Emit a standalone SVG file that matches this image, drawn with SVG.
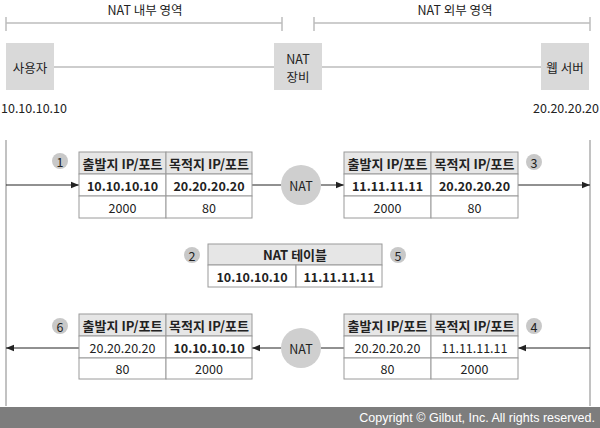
<svg xmlns="http://www.w3.org/2000/svg" width="600" height="428" viewBox="0 0 600 428">
<defs>
<style>
text{font-family:"Noto Sans CJK KR","Noto Sans",sans-serif;fill:#222;font-size:12.5px;text-anchor:middle;dominant-baseline:central}
.b{font-weight:bold}
.h{font-weight:bold;font-size:13px}
.box{fill:#d9d9d9}
.gl{stroke:#bdbdbd;stroke-width:1.5;fill:none}
.tb{fill:#fff;stroke:#9a9a9a;stroke-width:1}
.th{fill:#e6e6e6;stroke:#9a9a9a;stroke-width:1}
.num{fill:#c8c8c8}
.nat{fill:#cfcfcf}
.ln{stroke:#222;stroke-width:1;fill:none}
.vl{stroke:#999;stroke-width:1.2}
</style>
<marker id="ah" viewBox="0 0 10 10" refX="10" refY="5" markerWidth="8" markerHeight="8" orient="auto-start-reverse" markerUnits="userSpaceOnUse">
<path d="M0,1 L10,5 L0,9 z" fill="#222"/>
</marker>
</defs>
<g id="regions">
<text x="145" y="9" font-size="13.5">NAT 내부 영역</text>
<path class="gl" d="M6,23 H282 M6,17 V31 M282,17 V31"/>
<text x="455" y="9" font-size="13.5">NAT 외부 영역</text>
<path class="gl" d="M314,23 H590 M314,17 V31 M590,17 V31"/>
</g>
<g id="connectors">
<path class="gl" d="M54,67 H274 M322,67 H541"/>
<line class="vl" x1="6" y1="140" x2="6" y2="406"/>
<line class="vl" x1="590" y1="140" x2="590" y2="406"/>
<line class="ln" x1="6" y1="185" x2="79" y2="185" marker-end="url(#ah)"/>
<line class="ln" x1="252" y1="185" x2="281" y2="185"/>
<line class="ln" x1="321" y1="185" x2="344" y2="185" marker-end="url(#ah)"/>
<line class="ln" x1="518" y1="185" x2="590" y2="185" marker-end="url(#ah)"/>
<line class="ln" x1="590" y1="348" x2="518" y2="348" marker-end="url(#ah)"/>
<line class="ln" x1="344" y1="348" x2="321" y2="348"/>
<line class="ln" x1="281" y1="348" x2="252" y2="348" marker-end="url(#ah)"/>
<line class="ln" x1="79" y1="348" x2="6" y2="348" marker-end="url(#ah)"/>
</g>
<g id="user">
<rect class="box" x="6" y="43" width="48" height="47"/>
<text x="30" y="67" font-size="13.5">사용자</text>
<text x="1" y="107" font-size="13" style="text-anchor:start">10.10.10.10</text>
</g>
<g id="natdevice">
<rect class="box" x="274" y="43" width="48" height="47"/>
<text x="298" y="58" font-size="13.5">NAT</text>
<text x="298" y="76" font-size="13.5">장비</text>
</g>
<g id="webserver">
<rect class="box" x="541" y="43" width="48" height="47"/>
<text x="565" y="67" font-size="13.5">웹 서버</text>
<text x="599" y="107" font-size="13" style="text-anchor:end">20.20.20.20</text>
</g>
<g id="table1">
<rect class="th" x="79" y="152" width="87" height="22"/><rect class="th" x="166" y="152" width="86" height="22"/>
<rect class="tb" x="79" y="174" width="87" height="22"/><rect class="tb" x="166" y="174" width="86" height="22"/>
<rect class="tb" x="79" y="196" width="87" height="22"/><rect class="tb" x="166" y="196" width="86" height="22"/>
<text class="h" x="122.5" y="163">출발지 IP/포트</text><text class="h" x="209" y="163">목적지 IP/포트</text>
<text class="b" x="122.5" y="185">10.10.10.10</text><text class="b" x="209" y="185">20.20.20.20</text>
<text x="122.5" y="207">2000</text><text x="209" y="207">80</text>
<circle class="num" cx="60" cy="161" r="8"/><text x="60" y="161">1</text>
</g>
<g id="nat1">
<circle class="nat" cx="301" cy="185" r="20"/><text x="301" y="185" font-size="13">NAT</text>
</g>
<g id="table3">
<rect class="th" x="344" y="152" width="87" height="22"/><rect class="th" x="431" y="152" width="87" height="22"/>
<rect class="tb" x="344" y="174" width="87" height="22"/><rect class="tb" x="431" y="174" width="87" height="22"/>
<rect class="tb" x="344" y="196" width="87" height="22"/><rect class="tb" x="431" y="196" width="87" height="22"/>
<text class="h" x="387.5" y="163">출발지 IP/포트</text><text class="h" x="474.5" y="163">목적지 IP/포트</text>
<text class="b" x="387.5" y="185">11.11.11.11</text><text class="b" x="474.5" y="185">20.20.20.20</text>
<text x="387.5" y="207">2000</text><text x="474.5" y="207">80</text>
<circle class="num" cx="534" cy="162" r="8"/><text x="534" y="162">3</text>
</g>
<g id="nattable">
<rect class="th" x="208" y="244" width="174" height="21"/>
<rect class="tb" x="208" y="265" width="88" height="22"/><rect class="tb" x="296" y="265" width="86" height="22"/>
<text class="h" x="295" y="254.5">NAT 테이블</text>
<text class="b" x="252" y="276">10.10.10.10</text><text class="b" x="339" y="276">11.11.11.11</text>
<circle class="num" cx="192" cy="255" r="8"/><text x="192" y="255">2</text>
<circle class="num" cx="398" cy="255" r="8"/><text x="398" y="255">5</text>
</g>
<g id="table6">
<rect class="th" x="79" y="314" width="87" height="22"/><rect class="th" x="166" y="314" width="86" height="22"/>
<rect class="tb" x="79" y="336" width="87" height="22"/><rect class="tb" x="166" y="336" width="86" height="22"/>
<rect class="tb" x="79" y="358" width="87" height="21"/><rect class="tb" x="166" y="358" width="86" height="21"/>
<text class="h" x="122.5" y="325">출발지 IP/포트</text><text class="h" x="209" y="325">목적지 IP/포트</text>
<text x="122.5" y="347">20.20.20.20</text><text class="b" x="209" y="347">10.10.10.10</text>
<text x="122.5" y="368.5">80</text><text x="209" y="368.5">2000</text>
<circle class="num" cx="60" cy="326" r="8"/><text x="60" y="326">6</text>
</g>
<g id="nat2">
<circle class="nat" cx="301" cy="348" r="20"/><text x="301" y="348" font-size="13">NAT</text>
</g>
<g id="table4">
<rect class="th" x="344" y="314" width="87" height="22"/><rect class="th" x="431" y="314" width="87" height="22"/>
<rect class="tb" x="344" y="336" width="87" height="22"/><rect class="tb" x="431" y="336" width="87" height="22"/>
<rect class="tb" x="344" y="358" width="87" height="21"/><rect class="tb" x="431" y="358" width="87" height="21"/>
<text class="h" x="387.5" y="325">출발지 IP/포트</text><text class="h" x="474.5" y="325">목적지 IP/포트</text>
<text x="387.5" y="347">20.20.20.20</text><text x="474.5" y="347">11.11.11.11</text>
<text x="387.5" y="368.5">80</text><text x="474.5" y="368.5">2000</text>
<circle class="num" cx="534" cy="326" r="8"/><text x="534" y="326">4</text>
</g>
<g id="footer">
<rect x="0" y="407" width="600" height="21" fill="#7d7d7d"/>
<text x="595" y="417.5" style="text-anchor:end;fill:#fff;font-family:'Liberation Sans',Arial,sans-serif" font-size="12.5">Copyright © Gilbut, Inc. All rights reserved.</text>
</g>
</svg>
